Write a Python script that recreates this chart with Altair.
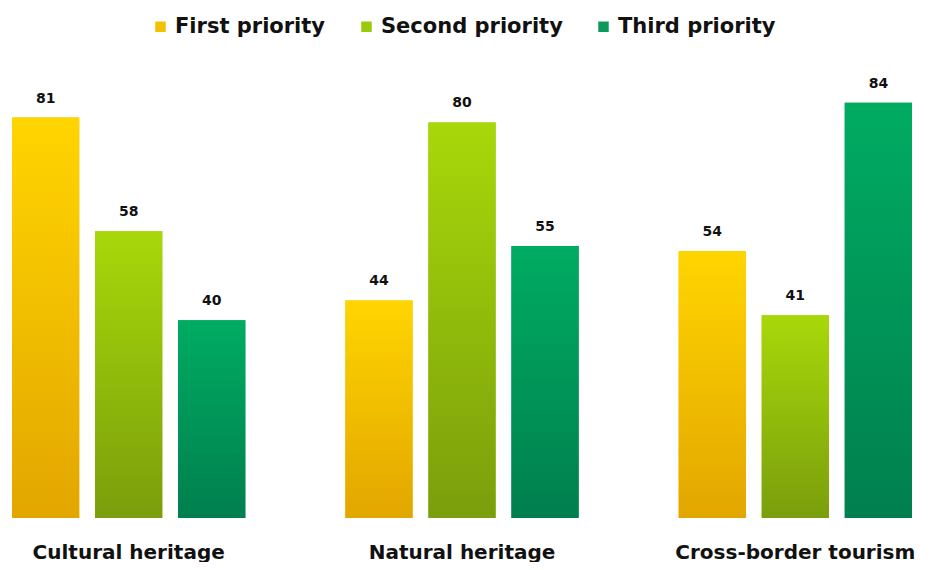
import altair as alt
import pandas as pd

categories = ["Cultural heritage", "Natural heritage", "Cross-border tourism"]
priorities = ["First priority", "Second priority", "Third priority"]
first = [81, 44, 54]
second = [58, 80, 41]
third = [40, 55, 84]

rows = []
for i, c in enumerate(categories):
    for p, vals in zip(priorities, [first, second, third]):
        rows.append({"category": c, "priority": p, "value": vals[i]})
df = pd.DataFrame(rows)

legend_colors = ["#F2C200", "#9ACB0A", "#0B9A5C"]
grads = [
    ("#FFD500", "#E2A600"),
    ("#A8D80A", "#7A9E0C"),
    ("#00AC62", "#007F4E"),
]

FONT = "DejaVu Sans"

x = alt.X("category:N", sort=categories, title=None,
          scale=alt.Scale(paddingInner=0.3, paddingOuter=0),
          axis=alt.Axis(labelAngle=0, ticks=False, domain=False, labelFont=FONT,
                        labelFontWeight="bold", labelFontSize=20, labelColor="#111111",
                        labelPadding=24, labelBaseline="top", labelLimit=0))
xo = alt.XOffset("priority:N", sort=priorities,
                 scale=alt.Scale(domain=priorities, paddingInner=0.19, paddingOuter=0))
y = alt.Y("value:Q", scale=alt.Scale(domain=[0, 90], nice=False), axis=None)

base = alt.Chart(df).encode(x=x, xOffset=xo, y=y)

legend_layer = base.mark_bar().encode(
    color=alt.Color("priority:N", sort=priorities,
                    scale=alt.Scale(domain=priorities, range=legend_colors),
                    legend=alt.Legend(title=None, orient="none", direction="horizontal",
                                      legendX=138, legendY=-57, symbolType="square",
                                      symbolSize=110, symbolStrokeWidth=0,
                                      labelFont=FONT, labelFontWeight="bold",
                                      labelFontSize=21, labelColor="#111111",
                                      columnPadding=30, symbolOffset=0, padding=0,
                                      labelLimit=0))
)

layers = [legend_layer]
for p, (top, bot) in zip(priorities, grads):
    g = alt.Gradient(gradient="linear", x1=0, x2=0, y1=0, y2=1,
                     stops=[alt.GradientStop(color=top, offset=0),
                            alt.GradientStop(color=bot, offset=1)])
    layers.append(base.transform_filter(alt.datum.priority == p).mark_bar(color=g))

labels = base.mark_text(font=FONT, fontWeight="bold", fontSize=14, baseline="bottom",
                        dy=-12, color="#111111").encode(text="value:Q")
layers.append(labels)

chart = alt.layer(*layers).properties(
    width=900, height=445,
    background="white",
    autosize=alt.AutoSizeParams(type="none"),
    padding={"left": 4, "top": 65, "right": 10, "bottom": 44},
).configure_view(strokeWidth=0, stroke=None)

chart.save("out.html", embed_options={"renderer": "svg", "actions": False})
